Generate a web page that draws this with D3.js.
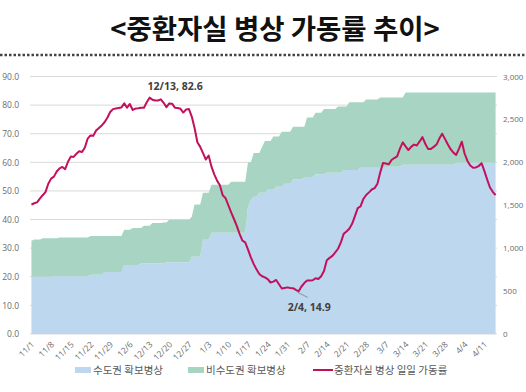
<!DOCTYPE html>
<html>
<head>
<meta charset="utf-8">
<script src="https://cdn.jsdelivr.net/npm/d3@7"></script>
<style>
  body { margin: 0; background: #fff; }
  svg { display: block; font-family: "Noto Sans CJK KR", "Noto Sans", sans-serif; }
</style>
</head>
<body>
<svg id="chart" width="526" height="392"></svg>
<script>
// 2020-11-01 ~ 2021-04-15 daily
var startDay = new Date(2020, 10, 1)
var endDay = new Date(2021, 3, 16)

var tickLabels = ["11/1","11/8","11/15","11/22","11/29","12/6","12/13","12/20","12/27",
  "1/3","1/10","1/17","1/24","1/31","2/7","2/14","2/21","2/28","3/7","3/14","3/21","3/28","4/4","4/11"]

// 수도권 확보병상 (right axis)
var capitalBeds = [
  668,668,668,668,668,668,668,668,672,672,
  672,672,672,672,672,672,672,672,672,672,
  672,690,690,690,690,690,722,722,722,722,
  722,722,722,805,805,805,805,805,805,825,
  825,825,825,825,825,825,825,825,837,837,
  837,837,837,837,837,837,837,900,900,900,
  900,1097,1097,1097,1180,1180,1180,1180,1180,1180,
  1180,1180,1180,1180,1180,1180,1180,1482,1560,1600,
  1600,1645,1645,1645,1680,1680,1680,1715,1715,1715,
  1750,1750,1750,1800,1800,1800,1800,1830,1830,1830,
  1830,1860,1860,1860,1860,1880,1880,1880,1880,1880,
  1880,1910,1910,1910,1910,1910,1910,1937,1937,1937,
  1937,1937,1937,1937,1937,1937,1937,1950,1950,1950,
  1950,1950,1972,1972,1972,1972,1972,1972,1972,1972,
  1972,1972,1972,1972,1972,1972,1972,1972,1972,1972,
  1972,1995,1995,1995,1995,1995,1995,1995,1995,1995,
  1995,1995,1995,1995,1995,1995
]

// 비수도권 확보병상 (right axis, stacked)
var nonCapitalBeds = [
  417,432,432,432,447,447,447,447,443,443,
  452,452,452,452,452,452,452,452,452,452,
  452,453,453,453,453,453,421,421,421,421,
  421,421,421,409,409,409,430,430,430,410,
  435,435,435,467,467,467,467,475,463,493,
  493,493,493,493,493,493,493,465,610,610,
  610,548,548,548,560,560,560,560,560,560,
  560,595,595,595,595,595,595,518,440,510,
  510,465,535,605,570,570,620,585,585,642,
  607,607,607,616,616,616,616,586,691,691,
  691,719,719,719,760,740,740,740,740,770,
  770,740,740,790,790,790,790,763,763,794,
  794,794,794,794,817,817,817,804,804,804,
  804,804,782,843,843,843,843,843,843,843,
  843,843,843,843,843,843,843,843,843,843,
  843,820,820,820,820,820,820,820,820,820,
  820,820,820,820,820,820
]

// 중환자실 병상 일일 가동률 (%, left axis)
var occupancy = [
  45.2,45.7,46.0,47.3,48.5,49.6,52.5,54.3,55.0,56.8,
  57.9,58.4,57.6,60.2,62.0,61.9,63.0,63.9,63.6,65.2,
  68.3,69.4,69.3,71.1,72.0,72.9,74.0,75.6,77.6,78.6,
  78.8,79.0,79.2,80.6,79.1,80.4,78.3,78.8,78.9,79.1,
  79.1,81.0,82.6,81.9,81.6,81.6,82.0,80.8,79.3,80.6,
  80.5,79.1,79.0,78.7,77.4,78.5,78.6,76.0,72.0,67.0,
  65.4,63.2,61.0,62.4,58.5,55.8,53.6,52.0,48.5,47.5,
  45.0,42.5,40.2,37.8,35.0,32.6,32.0,29.5,26.8,24.5,
  22.6,21.0,20.2,19.8,19.2,18.0,18.3,18.9,17.4,15.9,
  16.1,16.3,16.1,16.0,15.4,14.9,16.6,17.8,18.7,18.7,
  18.8,19.5,19.2,20.2,22.0,25.8,26.6,27.3,28.5,29.8,
  32.0,35.0,35.8,36.8,38.5,41.2,44.0,44.6,47.2,48.6,
  49.5,50.5,51.0,52.5,56.5,59.8,59.6,59.3,60.8,61.5,
  62.1,64.8,67.0,65.6,64.3,65.4,66.2,65.9,67.3,68.8,
  66.5,64.7,64.7,65.4,66.2,68.3,70.0,68.2,66.3,64.6,
  63.4,62.6,64.8,67.2,63.0,60.5,58.9,58.1,58.2,58.7,
  59.7,57.0,54.0,51.2,49.7,48.5
]

var leftTicks = [0,10,20,30,40,50,60,70,80,90]
var rightTicks = [0,500,1000,1500,2000,2500,3000]

var seriesNames = ["수도권 확보병상", "비수도권 확보병상", "중환자실 병상 일일 가동률"]
var colors = ["#bdd7ee", "#a8d5c3", "#c2105c"]

!(function(){
  "use strict"

  var svg = d3.select("#chart")
  var fmtDay = d3.timeFormat("%-m/%-d")
  var days = d3.timeDay.range(startDay, endDay)

  var rows = days.map(function(d, i) {
    return { day: fmtDay(d), capital: capitalBeds[i], nonCapital: nonCapitalBeds[i], rate: occupancy[i] }
  })

  var plot = { left: 30, right: 497, top: 76.5, bottom: 334 }

  var x = d3.scalePoint().domain(rows.map(function(d) { return d.day })).range([plot.left, plot.right]).padding(0.5)
  var yL = d3.scaleLinear().domain([0, 90]).range([plot.bottom, plot.top])
  var yR = d3.scaleLinear().domain([0, 3000]).range([plot.bottom, plot.top])

  // title
  svg.append("text")
    .attr("x", 275).attr("y", 39)
    .attr("text-anchor", "middle")
    .attr("font-size", 27.5).attr("font-weight", "bold").attr("fill", "#111")
    .text("<중환자실 병상 가동률 추이>")

  svg.append("line")
    .attr("x1", 0).attr("x2", 526).attr("y1", 55).attr("y2", 55)
    .attr("stroke", "#444").attr("stroke-width", 2.5).attr("stroke-dasharray", "2.5,2")

  // grid
  svg.append("g").selectAll("line").data(leftTicks).enter().append("line")
    .attr("x1", plot.left).attr("x2", plot.right)
    .attr("y1", function(d) { return yL(d) }).attr("y2", function(d) { return yL(d) })
    .attr("stroke", "#d9d9d9").attr("stroke-width", 1)

  // stacked areas
  var stacked = d3.stack().keys(["capital", "nonCapital"])(rows)
  var area = d3.area()
    .x(function(d) { return x(d.data.day) })
    .y0(function(d) { return yR(d[0]) })
    .y1(function(d) { return yR(d[1]) })

  svg.append("g").selectAll("path").data(stacked).enter().append("path")
    .attr("d", area)
    .attr("fill", function(d, i) { return colors[i] })

  // line
  var line = d3.line()
    .x(function(d) { return x(d.day) })
    .y(function(d) { return yL(d.rate) })

  svg.append("path").datum(rows)
    .attr("d", line)
    .attr("fill", "none").attr("stroke", colors[2]).attr("stroke-width", 2)
    .attr("stroke-linejoin", "round")

  // axes
  var leftAxis = svg.append("g")
    .attr("transform", "translate(" + (plot.left - 8) + ",0)")
    .call(d3.axisLeft(yL).tickValues(leftTicks).tickFormat(d3.format(".1f")).tickSize(0))
  var rightAxis = svg.append("g")
    .attr("transform", "translate(" + (plot.right + 6) + ",0)")
    .call(d3.axisRight(yR).tickValues(rightTicks).tickFormat(d3.format(",")).tickSize(0))

  var xAxis = svg.append("g")
    .attr("transform", "translate(0," + plot.bottom + ")")
    .call(d3.axisBottom(x).tickValues(tickLabels).tickSize(0))
  xAxis.selectAll("text")
    .attr("text-anchor", "end")
    .attr("transform", "translate(1,9) rotate(-45)")
    .attr("dy", "0.35em").attr("y", 0).attr("x", 0)

  ;[leftAxis, rightAxis, xAxis].forEach(function(g) {
    g.select(".domain").remove()
    g.selectAll("text").attr("fill", "#6b6b6b").attr("font-size", 8.5)
      .attr("font-family", "\"Open Sans\", \"Noto Sans CJK KR\", sans-serif")
  })
  rightAxis.selectAll("text").attr("x", 0).attr("font-size", 8)

  // data labels
  var peak = rows[42], low = rows[95]
  svg.append("text")
    .attr("x", x(peak.day) - 2).attr("y", yL(peak.rate) - 8)
    .attr("font-size", 10.5).attr("font-weight", "bold").attr("fill", "#404040")
    .attr("font-family", "\"Open Sans\", sans-serif")
    .text(peak.day + ", " + peak.rate.toFixed(1))

  svg.append("line")
    .attr("x1", x(low.day) - 1).attr("y1", yL(low.rate) + 1)
    .attr("x2", x(low.day) + 9).attr("y2", yL(low.rate) + 6)
    .attr("stroke", "#7f7f7f").attr("stroke-width", 0.8)
  svg.append("text")
    .attr("x", x(low.day) - 11).attr("y", yL(low.rate) + 20)
    .attr("font-size", 10.5).attr("font-weight", "bold").attr("fill", "#404040")
    .attr("font-family", "\"Open Sans\", sans-serif")
    .text(low.day + ", " + low.rate.toFixed(1))

  // legend
  var legend = svg.append("g").attr("transform", "translate(0,370)")
  var items = [
    { x: 75, kind: "rect" },
    { x: 188, kind: "rect" },
    { x: 313, kind: "line" }
  ]
  items.forEach(function(it, i) {
    if (it.kind === "rect") {
      legend.append("rect").attr("x", it.x).attr("y", -3).attr("width", 16).attr("height", 6).attr("fill", colors[i])
    } else {
      legend.append("line").attr("x1", it.x).attr("x2", it.x + 20).attr("y1", 0).attr("y2", 0)
        .attr("stroke", colors[i]).attr("stroke-width", 2)
    }
    legend.append("text")
      .attr("x", it.x + (it.kind === "rect" ? 18 : 21)).attr("y", 0).attr("dy", "0.35em")
      .attr("font-size", 10.5).attr("fill", "#595959")
      .text(seriesNames[i])
  })
}());
</script>
</body>
</html>
